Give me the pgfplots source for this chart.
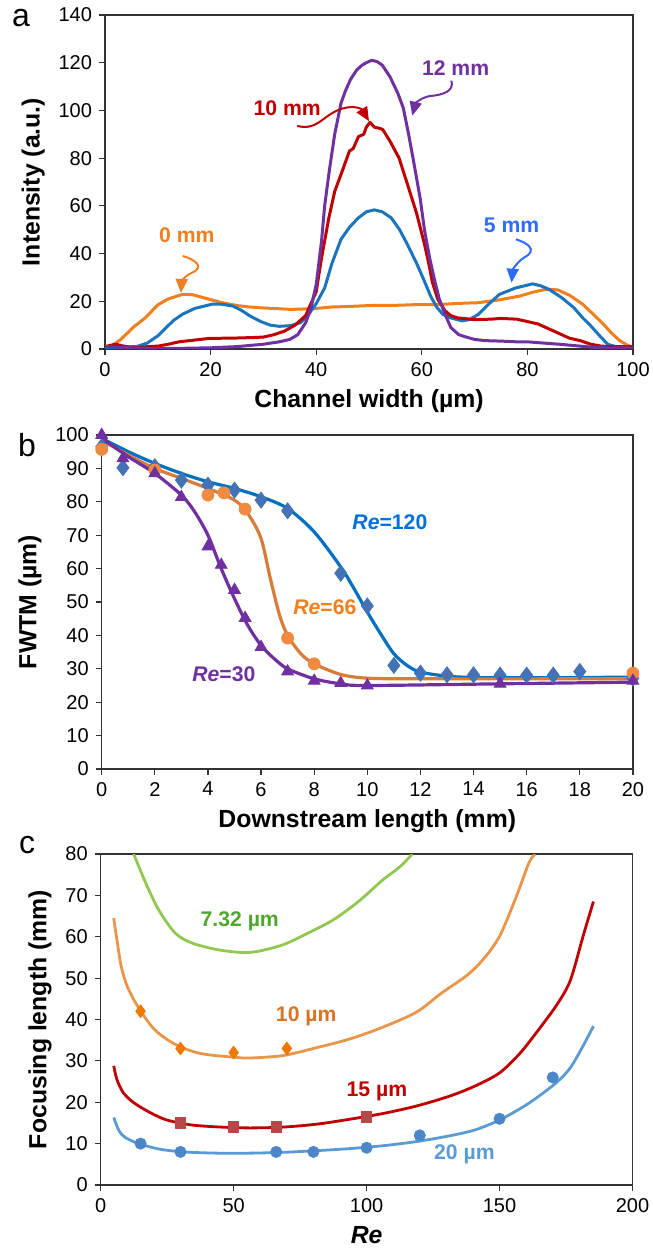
\documentclass[border=0pt]{standalone}
\usepackage{fontspec}
\setmainfont{Liberation Sans}
\usepackage{pgfplots}
\pgfplotsset{compat=1.18}
\usetikzlibrary{arrows.meta}

\definecolor{aorange}{HTML}{F07F1E}
\definecolor{ablue}{HTML}{1B75BC}
\definecolor{ared}{HTML}{C00000}
\definecolor{apurple}{HTML}{7030A0}
\definecolor{lblue}{HTML}{2E6CFF}
\definecolor{bdiam}{HTML}{4472B4}
\definecolor{bline}{HTML}{0070C0}
\definecolor{bcirc}{HTML}{F08A40}
\definecolor{btxt}{HTML}{0070E0}
\definecolor{cgreen}{HTML}{92C850}
\definecolor{cgreentxt}{HTML}{4EA72E}
\definecolor{corange}{HTML}{E9954A}
\definecolor{corangemk}{HTML}{F07800}
\definecolor{corangetxt}{HTML}{D87424}
\definecolor{credmk}{HTML}{B84848}
\definecolor{cblue}{HTML}{5B9BD5}
\definecolor{cbluemk}{HTML}{4A86C8}

\pgfplotsset{
  panel/.style={
    scale only axis,
    anchor=south west,
    axis line style={black!80, line width=0.6pt},
    tick style={black!80, line width=0.6pt},
    tick align=outside,
    major tick length=3pt,
    tick pos=left,
    /pgf/number format/assume math mode=true,
    ticklabel style={font=\fontsize{10}{12}\selectfont},
    label style={font=\fontsize{12.4}{14}\selectfont\bfseries},
    clip=true,
  },
}

\begin{document}
\begin{tikzpicture}
\path[use as bounding box] (0,0) rectangle (326.5pt,626.5pt);

% ---------------- panel a ----------------
\begin{axis}[panel,
  at={(52.5pt,452pt)}, width=264pt, height=167pt,
  xmin=0, xmax=100, ymin=0, ymax=140,
  xtick={0,20,...,100}, ytick={0,20,...,140},
  xlabel={Channel width (µm)}, ylabel={Intensity (a.u.)},
  every axis plot/.append style={line width=1.5pt, line join=round},
]
\addplot[aorange] coordinates {
(0,0.5) (1.3,1.4) (3,4) (5.3,9) (7.6,13) (10,18.5) (12,21) (14.7,22.9) (16.5,22.8)
(19.5,21) (22,19.5) (25,18.2) (27.4,17.6) (30,17.2) (35.2,16.6) (38,16.8) (40,17)
(43,17.6) (46,17.8) (51,18.3) (55,18.3) (59,18.6) (63,18.6) (66.8,19.1) (70.7,19.4)
(74.7,20.6) (78.6,22.2) (81,23.8) (83.5,25) (85.7,24.8) (88,22.5) (90.5,18.7)
(92.5,14.5) (94.4,10.4) (96,6.5) (97.5,3.5) (99,1.5) (100,0.8)};
\addplot[ablue] coordinates {
(0,0.5) (3,0.8) (6,1) (8,2.5) (10,5.5) (11.6,9) (13,12) (14.7,14.6) (17,17) (20.3,18.8)
(22,18.8) (24.2,18) (26,16) (27.4,13.9) (29.5,11.5) (31.3,10) (33,9.5) (35.2,9.8)
(37,11) (38.4,14) (40,19) (41.6,25.6) (43,36) (44.7,46) (46.3,51) (47.9,54.8)
(49.5,57.5) (51,58.3) (52.5,57.5) (54.2,55) (55.8,50) (57.3,43.7) (59,36) (60.5,28.4)
(61.7,22) (62.9,17.3) (64,14.5) (65.2,13.2) (67.6,11.8) (69,12.3) (70.7,14.5)
(72.5,18.5) (74.7,22.9) (77.8,25.6) (79.5,26.5) (81,27.3) (82.5,26.5) (84.1,25)
(86.5,21.5) (88.8,17.3) (90.5,13) (92,9.7) (93.7,5.5) (95.2,2) (97,0.8) (100,0.5)};
\addplot[ared] coordinates {
(0,1) (2,2) (4,1) (6,0.5) (8,1) (10,1.2) (12,2) (14,3) (16,3.5) (18,4) (20,4.5)
(22,4.5) (25,4.6) (28,4.8) (30,5) (32,6) (34,7.5) (36,10) (38,14) (40,24) (41,38)
(42.4,55) (43.5,66) (45,75) (46.3,83) (47,84) (48,89) (49,90) (49.5,93) (50.2,95)
(51,93) (52,92.5) (52.6,92) (54,87) (55.7,80) (57,71) (58,64) (59,57) (60.5,44)
(61.3,36) (62,28) (63,21) (64.4,16) (65.5,14) (66.8,13) (68,12.8) (70,12.3) (73,12.5)
(75,12.8) (78,12.5) (80,11.5) (82,10.5) (84,8.5) (86,6.5) (88,4.5) (90,3.5) (92,2)
(94,1.2) (96,1) (100,1)};
\addplot[apurple] coordinates {
(0,1) (5,0.5) (10,0.2) (15,0.3) (20,0.5) (25,1) (30,2) (33,3) (35,4) (36.5,6) (38,11)
(39,17) (40,27) (41,45) (41.6,60) (42.5,75) (43.5,90) (44.7,103) (45.5,108) (46.5,113)
(47.7,117) (48.7,119) (49.5,120) (50.5,121) (51.5,120.5) (52.5,119) (54,114)
(55.5,107) (56.5,101) (57.5,90) (58.5,78) (59.7,63) (60.5,50) (61.5,38) (62.3,30)
(63.3,21) (64.5,14) (65.5,9) (67,6) (68.4,5) (70,4) (72,3.5) (75,3.3) (78,3) (80,3)
(83,2.5) (86,2) (90,1.2) (93,0.6) (96,0.5) (100,0.5)};
% annotations
\node[font=\fontsize{10.6}{12}\selectfont\bfseries, text=aorange] at (axis cs:15.5,47.5) {0 mm};
\draw[aorange, line width=1pt, -{Triangle[length=7pt,width=6pt]}]
  (axis cs:14.7,39) .. controls (axis cs:17,37.5) and (axis cs:19,34.5) .. (axis cs:16.5,32)
  .. controls (axis cs:15,30.5) and (axis cs:14.5,28) .. (axis cs:14.4,23.5);
\node[font=\fontsize{10.6}{12}\selectfont\bfseries, text=lblue] at (axis cs:77,52) {5 mm};
\draw[lblue, line width=1pt, -{Triangle[length=7pt,width=6pt]}]
  (axis cs:77.8,46) .. controls (axis cs:80,44.5) and (axis cs:82,41.5) .. (axis cs:79.5,38.5)
  .. controls (axis cs:78,36.5) and (axis cs:77.2,33) .. (axis cs:77,27.8);
\node[font=\fontsize{10.6}{12}\selectfont\bfseries, text=ared] at (axis cs:34.5,101) {10 mm};
\draw[ared, line width=1pt, -{Triangle[length=7pt,width=6pt]}]
  (axis cs:36.4,93.5) .. controls (axis cs:40,91.5) and (axis cs:41,97) .. (axis cs:44,100)
  .. controls (axis cs:46.5,102.5) and (axis cs:48.5,101) .. (axis cs:50,95.5);
\node[font=\fontsize{10.6}{12}\selectfont\bfseries, text=apurple] at (axis cs:66.4,117.8) {12 mm};
\draw[apurple, line width=1pt, -{Triangle[length=7pt,width=6pt]}]
  (axis cs:65.6,112.5) .. controls (axis cs:66.2,108) and (axis cs:64,106.5) .. (axis cs:61.5,106)
  .. controls (axis cs:60,105.5) and (axis cs:58.8,103) .. (axis cs:58.2,97.8);
\end{axis}

% ---------------- panel b ----------------
\begin{axis}[panel,
  at={(50.85pt,242pt)}, width=265.6pt, height=167pt,
  xmin=0, xmax=20, ymin=0, ymax=100,
  xtick={0,2,...,20}, ytick={0,10,...,100},
  xlabel={Downstream length (mm)}, ylabel={FWTM (µm)},
  clip=false,
]
\addplot[bline, line width=1.6pt, smooth] coordinates {
(0,99) (1,95) (2,91.5) (3,88.5) (4,86) (5,84) (6,81.5) (7,78) (8,71) (9,60.5) (9.5,54)
(10,47) (10.5,40.5) (11,34.5) (11.5,31) (12,29) (13,27.8) (14,27.4) (16,27.3) (20,27.5)};
\addplot[bcirc!90!black, line width=1.6pt, smooth] coordinates {
(0,98.5) (1,94) (2,90) (3,87) (4,84) (5,80.5) (5.5,76.5) (6,69) (6.35,57) (6.7,46)
(7,40) (7.5,34.5) (8,31.5) (9,28.3) (10,27.2) (12,27) (20,27)};
\addplot[apurple, line width=1.6pt, smooth] coordinates {
(0,99) (1,93.5) (2,88.5) (3,82) (3.5,77) (4,70) (4.5,60) (5,51) (5.5,43) (6,37)
(6.5,33) (7,30) (8,27) (9,25.5) (10,25) (15,25.5) (20,26)};
\addplot[only marks, mark=diamond*, mark size=4pt, color=bdiam] coordinates {
(0,96.5) (0.8,90.2) (2,90.5) (3,86.5) (4,85) (5,83.5) (6,80.5) (7,77.3) (9,58.6)
(10,48.8) (11,31) (12,28.7) (13,28.2) (14,28.2) (15,28.1) (16,28.1) (17,28.1)
(18,29.2) (20,27.2)};
\addplot[only marks, mark=*, mark size=3pt, color=bcirc] coordinates {
(0,95.7) (2,89.5) (4,82) (4.6,82.7) (5.4,77.8) (7,39.2) (8,31.5) (20,28.7)};
\addplot[only marks, mark=triangle*, mark size=3.4pt, color=apurple] coordinates {
(0,100) (0.8,93) (2,88.5) (3,81.4) (4,66.6) (4.5,61.1) (5,53.6) (5.4,45.2) (6,36.5)
(7,29.2) (8,26.4) (9,25.7) (10,25) (15,25.5) (20,26.4)};
\node[font=\fontsize{10.6}{12}\selectfont\bfseries, text=btxt] at (axis cs:10.85,74) {\textit{Re}=120};
\node[font=\fontsize{10.6}{12}\selectfont\bfseries, text=aorange] at (axis cs:8.4,48.3) {\textit{Re}=66};
\node[font=\fontsize{10.6}{12}\selectfont\bfseries, text=apurple] at (axis cs:4.6,28.3) {\textit{Re}=30};
\end{axis}

% ---------------- panel c ----------------
\begin{axis}[panel,
  at={(50.35pt,34pt)}, width=265.9pt, height=165.5pt,
  xmin=0, xmax=200, ymin=0, ymax=80,
  xtick={0,50,...,200}, ytick={0,10,...,80},
  xlabel={\textit{Re}}, ylabel={Focusing length (mm)},
  every axis plot/.append style={line join=round},
]
\addplot[cgreen, line width=1.4pt, smooth] coordinates {
(12.4,80) (17,72.9) (21.8,66.5) (28,60.9) (34.3,58.5) (43.7,56.9) (53,56.2) (59.3,56.5)
(68.7,58.1) (78,60.9) (87.5,64.1) (96.9,68.5) (106,73.7) (112.5,76.9) (117.2,80)};
\addplot[corange, line width=1.4pt, smooth] coordinates {
(4.9,64.5) (6.1,59.3) (7.7,52.9) (10,48) (13.9,43.2) (20.2,37.6) (28,34) (37.4,31.8)
(50,30.9) (56.2,30.7) (68.7,31.3) (81.2,33.2) (93.7,35.3) (106.3,38.2) (118.8,41.8)
(128.2,46.4) (137.6,50.6) (143.8,54.5) (150,60.1) (156.3,69.7) (161,77.8) (163.4,80)};
\addplot[ared, line width=1.4pt, smooth] coordinates {
(4.9,28.8) (6.1,25.5) (8.5,22.3) (12.4,19.9) (18.6,17.5) (24.9,15.7) (34.3,14.5)
(45.2,14) (56.2,13.8) (68.7,14) (81.2,14.7) (93.7,15.9) (106.3,17.3) (118.8,19.1)
(131.3,21.5) (140.7,23.9) (150,27.1) (157.9,32) (165.7,38.4) (172,44) (176.7,49.6)
(181.4,60.1) (185.3,68.5)};
\addplot[cblue, line width=1.4pt, smooth] coordinates {
(4.9,16.3) (6.9,13.1) (9.2,11.5) (13.9,10.1) (21.8,8.7) (31.1,8) (43.7,7.7) (56.2,7.7)
(68.7,7.9) (81.2,8.3) (93.7,8.8) (106.3,9.5) (118.8,10.5) (131.3,11.9) (140.7,13.3)
(150,15.7) (159.4,19.1) (165.7,21.9) (172,25.1) (176.7,28.4) (181.4,33.6) (185.3,38.4)};
\addplot[only marks, mark=diamond*, mark size=3.2pt, color=corangemk] coordinates {
(15,42) (30,33) (50,32) (70,33)};
\addplot[only marks, mark=square*, mark size=2.6pt, color=credmk] coordinates {
(30,15) (50,14) (66,14) (100,16.5)};
\addplot[only marks, mark=*, mark size=2.8pt, color=cbluemk] coordinates {
(15,10) (30,8) (66,8) (80,8) (100,9) (120,12) (150,16) (170,26)};
\node[font=\fontsize{10.6}{12}\selectfont\bfseries, text=cgreentxt] at (axis cs:52.3,63.7) {7.32 µm};
\node[font=\fontsize{10.6}{12}\selectfont\bfseries, text=corangetxt] at (axis cs:77.3,40.8) {10 µm};
\node[font=\fontsize{10.6}{12}\selectfont\bfseries, text=ared] at (axis cs:103.9,22.7) {15 µm};
\node[font=\fontsize{10.6}{12}\selectfont\bfseries, text=cblue] at (axis cs:136.8,7.5) {20 µm};
\end{axis}

% panel letters
\node[font=\fontsize{16}{18}\selectfont] at (10.5pt,617.5pt) {a};
\node[font=\fontsize{16}{18}\selectfont] at (13.5pt,404pt) {b};
\node[font=\fontsize{16}{18}\selectfont] at (13.5pt,204pt) {c};
\end{tikzpicture}
\end{document}
